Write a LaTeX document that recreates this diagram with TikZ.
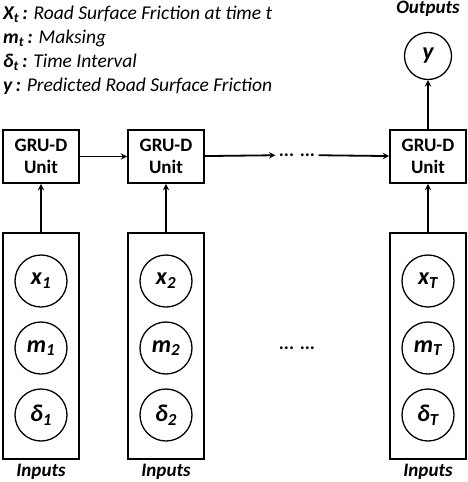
\documentclass[tikz,border=0pt]{standalone}
\usepackage{fontspec}
\setmainfont{Carlito}
\usepackage{tikz}
\usetikzlibrary{arrows, positioning}

\newcommand{\bi}[1]{\textbf{\textit{#1}}}

\begin{document}
\begin{tikzpicture}[x=1pt, y=-1pt, node distance=67pt]
\tikzstyle{unit} = [rectangle, minimum width=76pt, minimum height=53pt, text centered, align=center, draw=black, line width=1.8pt, font=\fontsize{19}{22}\selectfont\bfseries, inner sep=0pt]
\tikzstyle{inbox} = [rectangle, minimum width=76pt, minimum height=226pt, draw=black, line width=1.8pt]
\tikzstyle{var} = [circle, minimum size=52pt, draw=black, line width=1.3pt, font=\fontsize{24}{28}\selectfont\bfseries\itshape, inner sep=0pt]
\tikzstyle{caption} = [font=\fontsize{19}{22}\selectfont\bfseries\itshape]
\tikzstyle{legend} = [anchor=west, font=\fontsize{19.5}{23}\selectfont\itshape, inner sep=0pt]
\tikzstyle{arrow} = [line width=1.8pt,->,>=stealth]
\useasboundingbox (0,0) rectangle (468,482);

% legend
\node (l1) [legend] at (3,14) {\bi{X\textsubscript{t}\,:} Road Surface Friction at time t};
\node (l2) [legend] at (3,38) {\bi{m\textsubscript{t}\,:} Maksing};
\node (l3) [legend] at (3,62) {\bi{δ\textsubscript{t}\,:} Time Interval};
\node (l4) [legend] at (3,86) {\bi{y\,:} Predicted Road Surface Friction};

% GRU-D units
\node (gru1) [unit] at (41,156.5) {GRU-D\\Unit};
\node (gru2) [unit] at (166,156.5) {GRU-D\\Unit};
\node (hdots) at (297,155) {\fontsize{19}{22}\selectfont\bfseries ... ...};
\node (gru3) [unit] at (428,156.5) {GRU-D\\Unit};

% output
\node (y) [var, minimum size=47pt] at (428,56) {y};
\node (out) [caption] at (428,9) {Outputs};

% input columns
\node (in1) [inbox] at (41,346) {};
\node (x1) [var] at (41,281) {x\textsubscript{1}};
\node (m1) [var, below of=x1] {m\textsubscript{1}};
\node (d1) [var, below of=m1] {δ\textsubscript{1}};
\node (cap1) [caption] at (41,472) {Inputs};

\node (in2) [inbox] at (166,346) {};
\node (x2) [var] at (166,281) {x\textsubscript{2}};
\node (m2) [var, below of=x2] {m\textsubscript{2}};
\node (d2) [var, below of=m2] {δ\textsubscript{2}};
\node (cap2) [caption] at (166,472) {Inputs};

\node (vdots) at (297,348) {\fontsize{19}{22}\selectfont\bfseries ... ...};

\node (in3) [inbox] at (428,346) {};
\node (x3) [var] at (428,281) {x\textsubscript{T}};
\node (m3) [var, below of=x3] {m\textsubscript{T}};
\node (d3) [var, below of=m3] {δ\textsubscript{T}};
\node (cap3) [caption] at (428,472) {Inputs};

\draw [arrow] (gru1) -- (gru2);
\draw [arrow] (gru2) -- (hdots);
\draw [arrow] (hdots) -- (gru3);
\draw [arrow] (in1) -- (gru1);
\draw [arrow] (in2) -- (gru2);
\draw [arrow] (in3) -- (gru3);
\draw [arrow] (gru3) -- (y);

\end{tikzpicture}
\end{document}
